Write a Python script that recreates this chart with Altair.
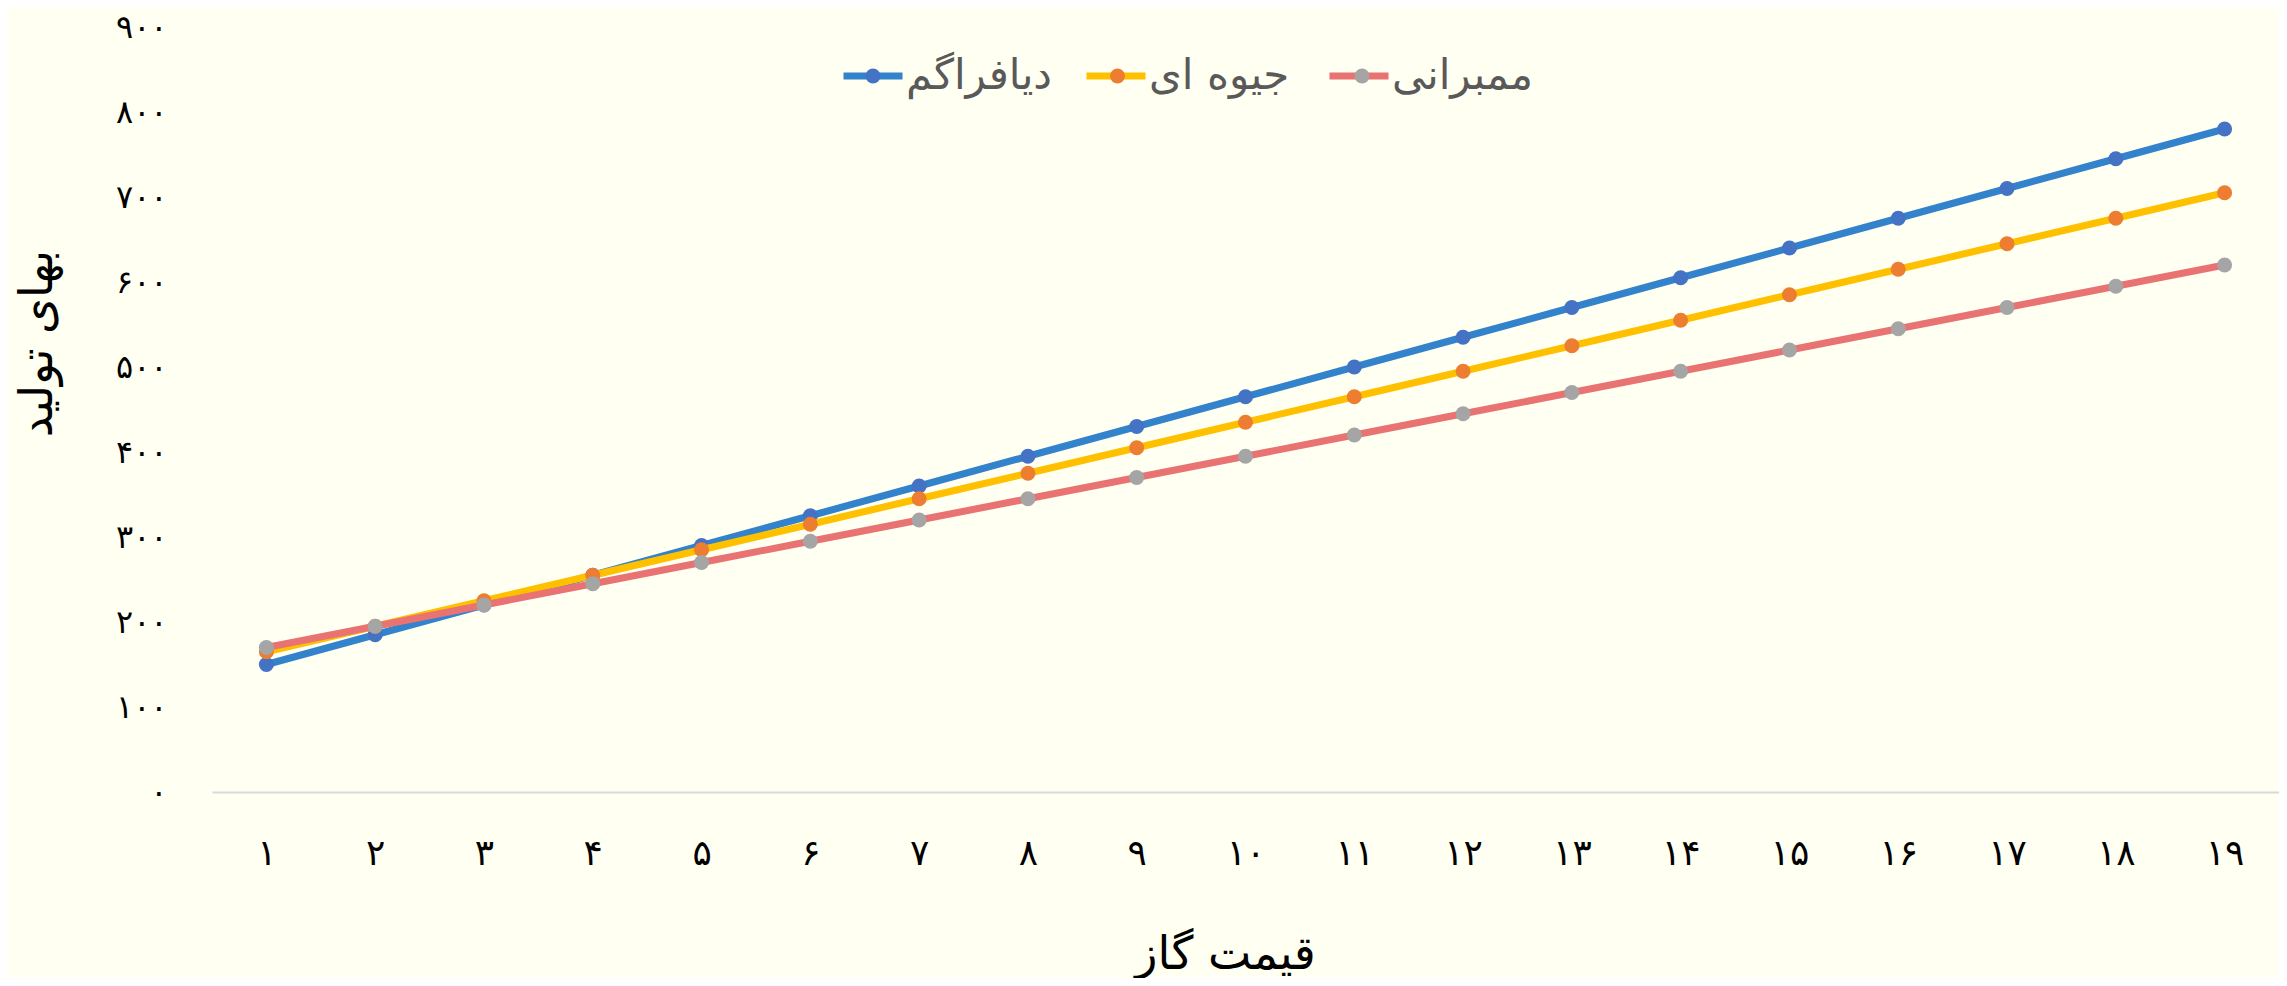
import altair as alt
import pandas as pd

# ---- data ----
x_labels = ["۱", "۲", "۳", "۴", "۵", "۶", "۷", "۸", "۹", "۱۰",
            "۱۱", "۱۲", "۱۳", "۱۴", "۱۵", "۱۶", "۱۷", "۱۸", "۱۹"]
series_names = ["دیافراگم", "جیوه ای", "ممبرانی"]
diaphragm = [150, 185, 220, 255, 290, 325, 360, 395, 430, 465,
             500, 535, 570, 605, 640, 675, 710, 745, 780]
mercury = [165, 195, 225, 255, 285, 315, 345, 375, 405, 435,
           465, 495, 525, 555, 585, 615, 645, 675, 705]
membrane = [170, 195, 220, 245, 270, 295, 320, 345, 370, 395,
            420, 445, 470, 495, 520, 545, 570, 595, 620]
y_tick_values = [0, 100, 200, 300, 400, 500, 600, 700, 800, 900]
y_tick_labels = ["۰", "۱۰۰", "۲۰۰", "۳۰۰", "۴۰۰", "۵۰۰", "۶۰۰", "۷۰۰", "۸۰۰", "۹۰۰"]
x_title = "قیمت گاز"
y_title = "بهای تولید"

line_colors = ["#3382CC", "#FFC000", "#E97373"]
point_colors = ["#4472C4", "#ED7D31", "#A5A5A5"]

FONT = "DejaVu Sans"

rows = []
for name, vals in zip(series_names, [diaphragm, mercury, membrane]):
    for xl, v in zip(x_labels, vals):
        rows.append({"x": xl, "series": name, "value": v})
df = pd.DataFrame(rows)

y_label_expr = " : ".join(
    f"datum.value == {v} ? '{l}'" for v, l in zip(y_tick_values, y_tick_labels)
) + " : ''"

x_enc = alt.X(
    "x:O",
    sort=x_labels,
    scale=alt.Scale(type="point", padding=0.5),
    axis=alt.Axis(
        title=x_title, titleFont=FONT, titleFontSize=46, titleFontWeight="normal",
        titleColor="#000000", titleX=1013, titleY=162, titleAlign="center",
        titleBaseline="middle",
        labelAngle=0, labelFont=FONT, labelFontSize=36, labelColor="#000000",
        labelBaseline="middle", labelPadding=61,
        ticks=False, grid=False, domainColor="#D9D9D9", domainWidth=2,
    ),
)
y_enc = alt.Y(
    "value:Q",
    scale=alt.Scale(domain=[0, 900], nice=False),
    axis=alt.Axis(
        title=y_title, titleFont=FONT, titleFontSize=46, titleFontWeight="normal",
        titleColor="#000000", titleX=-175, titleY=316, titleAngle=270,
        titleAlign="center", titleBaseline="middle",
        values=y_tick_values, labelExpr=y_label_expr,
        labelFont=FONT, labelFontSize=32, labelColor="#000000", labelPadding=45,
        ticks=False, grid=False, domain=False,
    ),
)

# line legend (visible labels); equal-width cells
stroke_enc = alt.Stroke(
    "series:N",
    scale=alt.Scale(domain=series_names, range=line_colors),
    legend=alt.Legend(
        orient="none", legendX=628, legendY=16, direction="horizontal", title=None,
        columns=3, gridAlign="all",
        symbolType="stroke", symbolSize=3481, symbolStrokeWidth=7,
        labelFont=FONT, labelFontSize=42, labelLimit=600, labelColor="#595959",
        labelOffset=0, columnPadding=19, padding=0,
    ),
)
# dot legend (only the dots, labels hidden and tiny), laid over the line legend
fill_enc = alt.Fill(
    "series:N",
    scale=alt.Scale(domain=series_names + ["_"], range=point_colors + ["#000000"]),
    legend=alt.Legend(
        values=series_names,
        orient="none", legendX=653.5, legendY=41.5, direction="horizontal", title=None,
        columns=3, gridAlign="all",
        symbolType="circle", symbolSize=225, symbolStrokeWidth=0,
        symbolOpacity=1,
        labelFont=FONT, labelFontSize=1, labelLimit=2, labelOpacity=0,
        labelOffset=0, columnPadding=227.5, padding=0,
    ),
)

base = alt.Chart(df)
layers = []
for name in series_names:
    sel = alt.FieldEqualPredicate(field="series", equal=name)
    layers.append(
        base.transform_filter(sel).mark_line(strokeWidth=7, strokeJoin="round")
        .encode(x=x_enc, y=y_enc, stroke=stroke_enc)
    )
    layers.append(
        base.transform_filter(sel).mark_circle(size=225, opacity=1)
        .encode(x=x_enc, y=y_enc, fill=fill_enc)
    )

chart = alt.layer(*layers).properties(
    width=2067, height=765,
    padding={"left": 204, "top": 19, "right": 0, "bottom": 186},
    autosize=alt.AutoSizeParams(type="none"),
    background="#FFFFF2",
).configure(font=FONT).configure_view(stroke=None)

chart.save("out.html", embed_options={"renderer": "svg", "actions": False})
